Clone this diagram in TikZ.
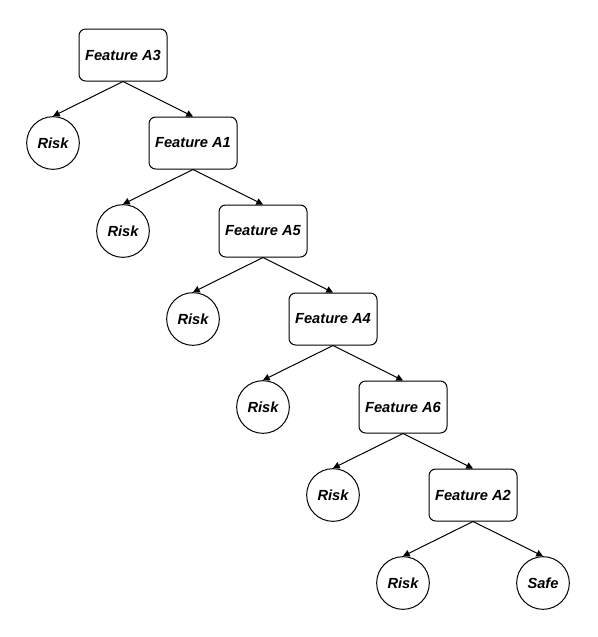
\documentclass[tikz,border=0pt]{standalone}
\usepackage{fontspec}
\setmainfont{Liberation Sans}
\usetikzlibrary{arrows.meta}

\begin{document}
\begin{tikzpicture}[x=0.75pt, y=-0.75pt,
    feat/.style={draw, line width=0.75pt, rounded corners=5pt, minimum width=66pt, minimum height=39pt, inner sep=0pt, font=\fontsize{11}{13}\selectfont\bfseries\itshape},
    leaf/.style={draw, circle, line width=0.75pt, minimum size=39.5pt, inner sep=0pt, font=\fontsize{11}{13}\selectfont\bfseries\itshape},
    edge/.style={line width=0.75pt, -{Triangle[length=5pt, width=5pt]}}]
  \useasboundingbox (0,0) rectangle (598,637);
  % chain of features, one risk leaf per level
  \foreach \i/\lab in {0/A3, 1/A1, 2/A5, 3/A4, 4/A6, 5/A2}{
    \node[feat] (f\i) at (123+70*\i, 55+88*\i) {Feature \lab};
    \node[leaf] (r\i) at (53+70*\i, 143+88*\i) {Risk};
  }
  \node[leaf] (safe) at (543, 583) {Safe};
  \foreach \i in {0,...,5}{
    \draw[edge] (f\i.south) -- (r\i.north);
  }
  \foreach \i/\j in {0/1, 1/2, 2/3, 3/4, 4/5}{
    \draw[edge] (f\i.south) -- (f\j.north);
  }
  \draw[edge] (f5.south) -- (safe.north);
\end{tikzpicture}
\end{document}
